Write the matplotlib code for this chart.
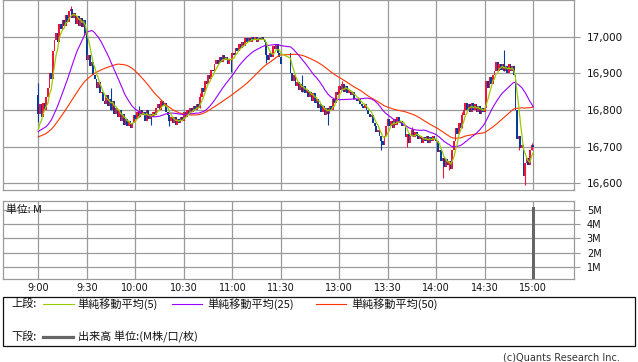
import numpy as np
import matplotlib
matplotlib.use("Agg")
import matplotlib.pyplot as plt
from matplotlib.patches import Rectangle
from matplotlib.lines import Line2D
from matplotlib.ticker import FuncFormatter

# ---------------- data ----------------
tick_labels = ["9:00", "9:30", "10:00", "10:30", "11:00", "11:30",
               "13:00", "13:30", "14:00", "14:30", "15:00"]
tick_slots = [0, 30, 60, 90, 120, 150, 186, 216, 246, 276, 306]

# previous session closes (used only to seed moving averages)
prev_closes = [16700, 16705, 16710, 16715, 16710, 16705, 16700, 16710, 16715, 16720,
               16715, 16710, 16705, 16710, 16715, 16720, 16725, 16720, 16715, 16710,
               16715, 16720, 16710, 16705, 16700,
               16720, 16730, 16740, 16745, 16750, 16745, 16740, 16735, 16740, 16745,
               16750, 16745, 16740, 16735, 16730, 16735, 16740, 16745, 16740, 16735,
               16730, 16735, 16730, 16740]

# morning session 9:00 - 11:30 (one close per minute)
am_closes = [16790, 16815, 16780, 16820, 16800, 16835, 16860, 16900, 16885, 16960,
             16990, 17010, 16985, 17035, 17020, 17045, 17030, 17060, 17040, 17070,
             17075, 17050, 17065, 17035, 17055, 17030, 17050, 17025, 17045, 17010,
             16935, 16950, 16920, 16930, 16895, 16885, 16860, 16875, 16845, 16850,
             16825, 16815, 16840, 16810, 16830, 16800, 16825, 16790, 16805, 16780,
             16800, 16770, 16790, 16760, 16775, 16755, 16770, 16750, 16765, 16785,
             16775, 16795, 16780, 16800, 16785, 16795, 16770, 16800, 16775, 16790,
             16780, 16795, 16785, 16805, 16815, 16800, 16825, 16810, 16820, 16795,
             16785, 16770, 16780, 16765, 16780, 16760, 16775, 16765, 16780, 16770,
             16795, 16780, 16800, 16790, 16805, 16795, 16810, 16800, 16815, 16805,
             16835, 16860, 16850, 16880, 16870, 16895, 16885, 16910, 16905, 16925,
             16935, 16925, 16945, 16930, 16950, 16935, 16945, 16925, 16940, 16935,
             16955, 16950, 16970, 16960, 16980, 16970, 16985, 16975, 16995, 16985,
             16995, 16985, 17000, 16990, 16998, 16985, 16995, 16990, 17000, 16990,
             16985, 16950, 16935, 16955, 16945, 16975, 16965, 16980, 16955, 16945,
             16925]
am_first_open = 16840
am_start_slot = 0

# afternoon session 12:30 - 15:00
pm_closes = [16900, 16880, 16895, 16865, 16875, 16855, 16870, 16850, 16865, 16845,
             16855, 16835, 16850, 16825, 16845, 16820, 16830, 16805, 16815, 16795,
             16810, 16785, 16805, 16790, 16810, 16800, 16830, 16820, 16850, 16840,
             16865, 16855, 16870, 16850, 16865, 16845, 16855, 16840, 16850, 16830,
             16830, 16825, 16830, 16815, 16810, 16805, 16815, 16800, 16790, 16780,
             16785, 16765, 16755, 16740, 16745, 16730, 16715, 16705, 16730, 16755,
             16775, 16755, 16770, 16750, 16775, 16760, 16780, 16765, 16770, 16755,
             16760, 16725, 16735, 16710, 16730, 16745, 16725, 16740, 16730, 16720,
             16730, 16710, 16725, 16715, 16730, 16710, 16725, 16715, 16730, 16720,
             16715, 16685, 16690, 16660, 16670, 16645, 16665, 16650, 16660, 16640,
             16690, 16715, 16750, 16735, 16765, 16750, 16785, 16800, 16820, 16800,
             16815, 16795, 16820, 16800, 16815, 16795, 16810, 16790, 16805, 16795,
             16805, 16880, 16860, 16890, 16870, 16895, 16905, 16930, 16905, 16925,
             16910, 16925, 16905, 16920, 16900, 16925, 16905, 16920, 16895, 16800,
             16720, 16730, 16695, 16705, 16620, 16655, 16670, 16650, 16690, 16705,
             16700]
pm_first_open = 16955
pm_start_slot = 156

# notable wick extremes (slot -> price)
wick_highs = {0: 16873, 20: 17084, 45: 16860, 62: 16810, 100: 16845, 163: 16895,
              188: 16878, 231: 16752, 262: 16795, 288: 16964, 305: 16710}
wick_lows = {0: 16767, 28: 17005, 70: 16759, 81: 16756, 119: 16904, 141: 16928,
             179: 16759, 212: 16691, 228: 16700, 250: 16614, 254: 16636,
             297: 16690, 301: 16596}

volume_slots = [306]
volume_values = [5_200_000]

# ---------------- build series ----------------
slots = list(range(am_start_slot, am_start_slot + len(am_closes))) + \
        list(range(pm_start_slot, pm_start_slot + len(pm_closes)))
closes = am_closes + pm_closes
opens = [am_first_open] + am_closes[:-1] + [pm_first_open] + pm_closes[:-1]

all_closes = np.array(prev_closes + closes, dtype=float)
n_prev = len(prev_closes)


def sma(arr, w):
    c = np.cumsum(np.insert(arr, 0, 0.0))
    out = (c[w:] - c[:-w]) / w
    return np.concatenate([np.full(w - 1, np.nan), out])


ma5 = sma(all_closes, 5)[n_prev:]
ma25 = sma(all_closes, 25)[n_prev:]
ma50 = sma(all_closes, 50)[n_prev:]

# ---------------- figure ----------------
W, H = 638, 362
fig = plt.figure(figsize=(W / 100, H / 100), dpi=100)


def fx(px):
    return px / W


def fy(py):
    return 1 - py / H


GRID = "#9a9a9a"
UP = "#f0143c"
DOWN = "#0b3a9c"
JP = ["Noto Sans CJK JP", "DejaVu Sans"]

x_left, x_right = 3.3, 574.3
xlim = (-21.6, 331.4)

ax = fig.add_axes([fx(x_left), fy(190.3), fx(x_right) - fx(x_left), 190.3 / H])
ax.set_xlim(*xlim)
ax.set_ylim(16580.5, 17100)

for s, o, c in zip(slots, opens, closes):
    col = UP if c >= o else DOWN
    hi = max(o, c, wick_highs.get(s, -1e9))
    lo = min(o, c, wick_lows.get(s, 1e9))
    if hi > max(o, c) or lo < min(o, c):
        ax.vlines(s, lo, hi, color=col, lw=0.8, zorder=3)
    body = max(abs(c - o), 2.0)
    ax.bar(s, body, bottom=min(o, c), width=1.1, color=col, lw=0, zorder=3)

ax.plot(slots, ma50, color="#ff3300", lw=0.8, zorder=4)
ax.plot(slots, ma25, color="#9b00ff", lw=0.8, zorder=4)
ax.plot(slots, ma5, color="#99cc00", lw=0.9, zorder=5)

ax.set_xticks(tick_slots)
ax.set_xticklabels([])
ax.set_yticks([16600, 16700, 16800, 16900, 17000])
ax.yaxis.set_major_formatter(FuncFormatter(lambda v, p: f"{v:,.0f}"))
ax.yaxis.tick_right()
ax.tick_params(axis="y", length=4, width=0.8, color=GRID, pad=5, labelsize=7.5,
               labelcolor="#111111")
ax.tick_params(axis="x", length=0)
ax.grid(True, color=GRID, lw=0.9)
ax.set_axisbelow(True)
for sp in ax.spines.values():
    sp.set_color(GRID)
    sp.set_linewidth(0.9)

# volume panel
vx = fig.add_axes([fx(x_left), fy(279.3), fx(x_right) - fx(x_left), (279.3 - 201.3) / H])
vx.set_xlim(*xlim)
vx.set_ylim(0.11e6, 5.62e6)
vx.bar(volume_slots, volume_values, width=1.7, color="#666666", lw=0, zorder=3)
vx.set_xticks(tick_slots)
vx.set_xticklabels(tick_labels)
vx.set_yticks([1e6, 2e6, 3e6, 4e6, 5e6])
vx.yaxis.set_major_formatter(FuncFormatter(lambda v, p: f"{v / 1e6:.0f}M"))
vx.yaxis.tick_right()
vx.tick_params(axis="y", length=4, width=0.8, color=GRID, pad=5, labelsize=7,
               labelcolor="#111111")
vx.tick_params(axis="x", length=0, pad=2.5, labelsize=7, labelcolor="#111111")
vx.grid(True, color=GRID, lw=0.9)
vx.set_axisbelow(True)
for sp in vx.spines.values():
    sp.set_color(GRID)
    sp.set_linewidth(0.9)

fig.text(fx(6.5), fy(210), "単位: M", family=JP, fontsize=7.8, va="center",
         ha="left", color="#111111")

# legend box
fig.add_artist(Rectangle((fx(3), fy(346)), fx(635) - fx(3), (346 - 296.7) / H,
                         transform=fig.transFigure, fill=False, ec="#111111", lw=0.9))
ry1, ry2 = 304, 337
fs_leg = 8
fig.text(fx(11), fy(ry1), "上段:", family=JP, fontsize=fs_leg, va="center", color="#111111")
fig.text(fx(11), fy(ry2), "下段:", family=JP, fontsize=fs_leg, va="center", color="#111111")
legend_items = [(43, 73.5, 77.5, "#99cc00", "単純移動平均(5)"),
                (172, 202, 207, "#9b00ff", "単純移動平均(25)"),
                (316, 346, 351, "#ff3300", "単純移動平均(50)")]
for x0, x1, tx, col, lab in legend_items:
    fig.add_artist(Line2D([fx(x0), fx(x1)], [fy(ry1), fy(ry1)], color=col, lw=0.8,
                          transform=fig.transFigure))
    fig.text(fx(tx), fy(ry1), lab, family=JP, fontsize=fs_leg, va="center", color="#111111")
fig.add_artist(Line2D([fx(43), fx(72.6)], [fy(ry2), fy(ry2)], color="#666666", lw=2.3,
                      transform=fig.transFigure))
fig.text(fx(77.5), fy(ry2), "出来高 単位:(M株/口/枚)", family=JP, fontsize=fs_leg,
         va="center", color="#111111")

fig.text(fx(620), fy(357.5), "(c)Quants Research Inc.", fontsize=7, ha="right",
         va="center", color="#333333")

fig.savefig("out.png", dpi=100)
